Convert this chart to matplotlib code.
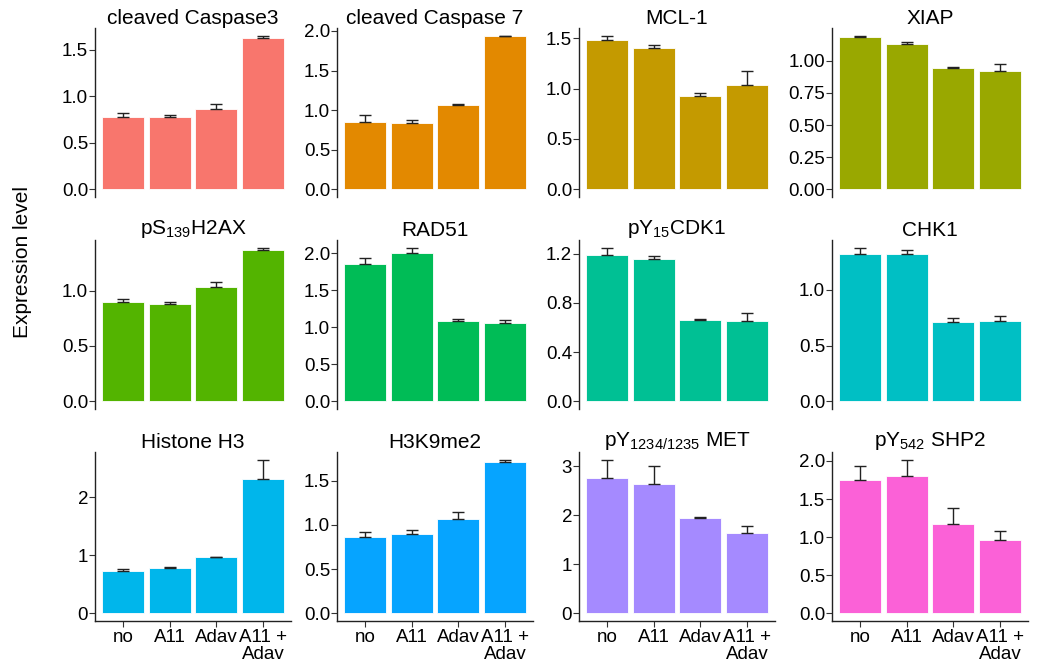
import numpy as np
import matplotlib
matplotlib.use('Agg')
import matplotlib.pyplot as plt

plt.rcParams['font.family'] = ['Liberation Sans', 'DejaVu Sans']
plt.rcParams['mathtext.default'] = 'regular'

# data
groups = ['no', 'A11', 'Adav', 'A11 +\nAdav']
titles = ['cleaved Caspase3', 'cleaved Caspase 7', 'MCL-1', 'XIAP',
          r'pS$_{139}$H2AX', 'RAD51', r'pY$_{15}$CDK1', 'CHK1',
          'Histone H3', 'H3K9me2', r'pY$_{1234/1235}$ MET', r'pY$_{542}$ SHP2']
means = [
    [0.78, 0.78, 0.86, 1.63],
    [0.855, 0.84, 1.07, 1.93],
    [1.48, 1.405, 0.93, 1.035],
    [1.183, 1.131, 0.943, 0.92],
    [0.90, 0.88, 1.033, 1.364],
    [1.852, 2.009, 1.092, 1.056],
    [1.192, 1.154, 0.663, 0.655],
    [1.326, 1.320, 0.715, 0.724],
    [0.737, 0.777, 0.966, 2.314],
    [0.868, 0.898, 1.068, 1.714],
    [2.77, 2.647, 1.95, 1.632],
    [1.749, 1.805, 1.173, 0.961],
]
errors = [
    [0.035, 0.017, 0.055, 0.02],
    [0.085, 0.03, 0.01, 0.01],
    [0.045, 0.025, 0.03, 0.135],
    [0.013, 0.014, 0.008, 0.057],
    [0.022, 0.016, 0.045, 0.024],
    [0.081, 0.067, 0.018, 0.049],
    [0.056, 0.03, 0.008, 0.059],
    [0.054, 0.036, 0.036, 0.039],
    [0.023, 0.023, 0.011, 0.332],
    [0.049, 0.049, 0.082, 0.023],
    [0.365, 0.353, 0.013, 0.155],
    [0.19, 0.212, 0.212, 0.126],
]
yticks = [
    [0.0, 0.5, 1.0, 1.5],
    [0.0, 0.5, 1.0, 1.5, 2.0],
    [0.0, 0.5, 1.0, 1.5],
    [0.0, 0.25, 0.5, 0.75, 1.0],
    [0.0, 0.5, 1.0],
    [0.0, 0.5, 1.0, 1.5, 2.0],
    [0.0, 0.4, 0.8, 1.2],
    [0.0, 0.5, 1.0],
    [0, 1, 2],
    [0.0, 0.5, 1.0, 1.5],
    [0, 1, 2, 3],
    [0.0, 0.5, 1.0, 1.5, 2.0],
]
tick_fmt = ['%.1f', '%.1f', '%.1f', '%.2f', '%.1f', '%.1f', '%.1f', '%.1f',
            '%d', '%.1f', '%d', '%.1f']
colors = ['#F8766D', '#E38900', '#C49A00', '#99A800', '#53B400', '#00BC56',
          '#00C094', '#00BFC4', '#00B6EB', '#06A4FF', '#A58AFF', '#FB61D7']

fig = plt.figure(figsize=(10.37, 6.71), dpi=100)

lefts = [95, 337, 579, 832]
tops = [28, 240, 452]
pw, ph = 196, 169
x = np.arange(1, 5)

for i in range(12):
    r, c = divmod(i, 4)
    ax = fig.add_axes([lefts[c] / 1037, 1 - (tops[r] + ph) / 671, pw / 1037, ph / 671])
    m = np.array(means[i])
    e = np.array(errors[i])
    ax.bar(x, m, width=0.9, color=colors[i], edgecolor='white', linewidth=0.6, zorder=2)
    ax.errorbar(x, m, yerr=[np.zeros(4), e], fmt='none', ecolor='#222222',
                elinewidth=1.0, capsize=4, capthick=1.0, zorder=3)
    top = (m + e).max()
    ax.set_ylim(-0.05 * top, 1.05 * top)
    ax.set_xlim(0.4, 4.6)
    ax.set_yticks(yticks[i])
    ax.set_yticklabels([tick_fmt[i] % v for v in yticks[i]])
    ax.tick_params(axis='y', labelsize=13.5, length=4, width=0.8, color='#333333',
                   pad=1, labelcolor='black')
    ax.set_title(titles[i], fontsize=15, pad=3)
    for s in ['top', 'right']:
        ax.spines[s].set_visible(False)
    ax.spines['left'].set_linewidth(1.0)
    ax.spines['left'].set_color('#222222')
    if r == 2:
        ax.set_xticks(x)
        ax.set_xticklabels(groups)
        ax.tick_params(axis='x', labelsize=13.5, length=4, width=0.8, color='#333333',
                       pad=2, labelcolor='black')
        ax.spines['bottom'].set_linewidth(1.0)
        ax.spines['bottom'].set_color('#222222')
        for lab in ax.get_xticklabels():
            lab.set_linespacing(0.95)
    else:
        ax.set_xticks([])
        ax.spines['bottom'].set_visible(False)

fig.text(0.022, 0.61, 'Expression level', rotation=90, fontsize=15,
         ha='center', va='center')

plt.savefig('out.png', dpi=100)
